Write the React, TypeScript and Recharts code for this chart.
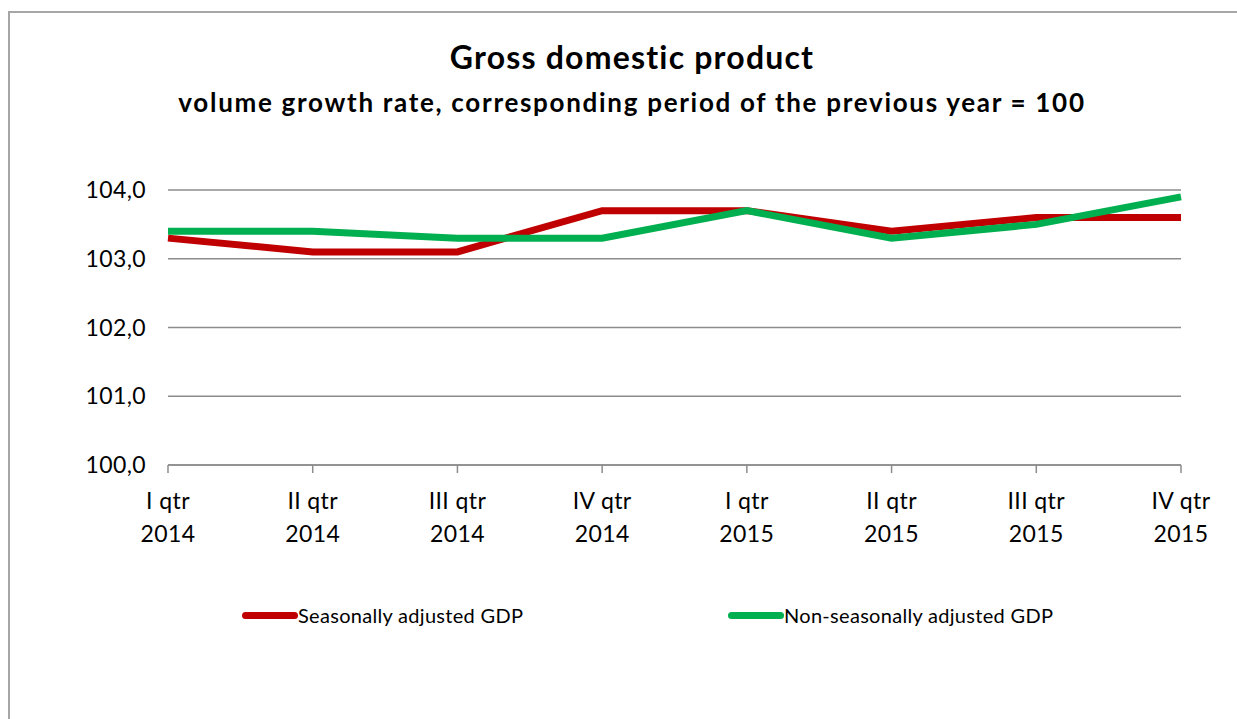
import { LineChart, Line, XAxis, YAxis, CartesianGrid } from "recharts";

const quarters = ["I qtr", "II qtr", "III qtr", "IV qtr", "I qtr", "II qtr", "III qtr", "IV qtr"];
const years = ["2014", "2014", "2014", "2014", "2015", "2015", "2015", "2015"];
const seasonal = [103.3, 103.1, 103.1, 103.7, 103.7, 103.4, 103.6, 103.6];
const nonSeasonal = [103.4, 103.4, 103.3, 103.3, 103.7, 103.3, 103.5, 103.9];
const yTicks = [100, 101, 102, 103, 104];

const data = quarters.map((q, i) => ({
  label: `${q}|${years[i]}`,
  seasonal: seasonal[i],
  nonSeasonal: nonSeasonal[i],
}));

const FONT = "Lato, 'Open Sans', sans-serif";
const GRID = "#8c8c8c";

function QuarterTick(props: any) {
  const { x, y, payload } = props;
  const [q, yr] = String(payload.value).split("|");
  return (
    <text x={x} y={y} textAnchor="middle" fill="#000" fontSize={23} fontFamily={FONT} letterSpacing={0.4}>
      <tspan x={x} dy={34}>{q}</tspan>
      <tspan x={x} dy={33}>{yr}</tspan>
    </text>
  );
}

function LegendRow() {
  const items = [
    { name: "Seasonally adjusted GDP", color: "#c00000", left: 232 },
    { name: "Non-seasonally adjusted GDP", color: "#00b050", left: 718 },
  ];
  return (
    <div style={{ position: "absolute", left: 0, top: 590, height: 30, fontFamily: FONT, fontSize: 20, letterSpacing: 0.3 }}>
      {items.map((it) => (
        <div
          key={it.name}
          style={{ position: "absolute", left: it.left, top: 0, display: "flex", alignItems: "center", whiteSpace: "nowrap" }}
        >
          <span
            style={{ display: "inline-block", width: 56, height: 7, borderRadius: 4, background: it.color }}
          />
          <span style={{ color: "#000" }}>{it.name}</span>
        </div>
      ))}
    </div>
  );
}

export default function App() {
  return (
    <div
      style={{
        position: "absolute",
        left: 8,
        top: 11,
        width: 1229,
        height: 708,
        borderTop: "2px solid #a6a6a6",
        borderLeft: "2px solid #a6a6a6",
        boxSizing: "border-box",
        background: "#fff",
      }}
    >
      <div
        style={{
          position: "absolute",
          left: 0,
          top: 25,
          width: 1244,
          textAlign: "center",
          fontFamily: FONT,
          fontWeight: 700,
          color: "#000",
        }}
      >
        <div style={{ fontSize: 32, lineHeight: "38px", letterSpacing: 1.2 }}>Gross domestic product</div>
        <div style={{ fontSize: 26, lineHeight: "32px", marginTop: 10, letterSpacing: 1.7 }}>
          volume growth rate, corresponding period of the previous year = 100
        </div>
      </div>
      <div style={{ position: "absolute", left: -2, top: -2 }}>
        <LineChart
          width={1229}
          height={708}
          data={data}
          margin={{ top: 179, right: 56, left: 60, bottom: 174 }}
        >
          <CartesianGrid stroke={GRID} strokeWidth={1.5} vertical={false} />
          <XAxis
            dataKey="label"
            tick={<QuarterTick />}
            tickLine={{ stroke: GRID, strokeWidth: 1.5 }}
            axisLine={{ stroke: GRID, strokeWidth: 1.5 }}
            tickSize={8}
            height={80}
            interval={0}
          />
          <YAxis
            domain={[100, 104]}
            ticks={yTicks}
            width={100}
            axisLine={false}
            tickLine={false}
            tickSize={0}
            tickMargin={22}
            tickFormatter={(v: number) => v.toFixed(1).replace(".", ",")}
            tick={{ fill: "#000", fontSize: 23, fontFamily: FONT, letterSpacing: 0.4 }}
          />
          <Line
            dataKey="seasonal"
            name="Seasonally adjusted GDP"
            type="linear"
            stroke="#c00000"
            strokeWidth={7}
            dot={false}
            isAnimationActive={false}
          />
          <Line
            dataKey="nonSeasonal"
            name="Non-seasonally adjusted GDP"
            type="linear"
            stroke="#00b050"
            strokeWidth={7}
            dot={false}
            isAnimationActive={false}
          />
        </LineChart>
      </div>
      <LegendRow />
    </div>
  );
}
